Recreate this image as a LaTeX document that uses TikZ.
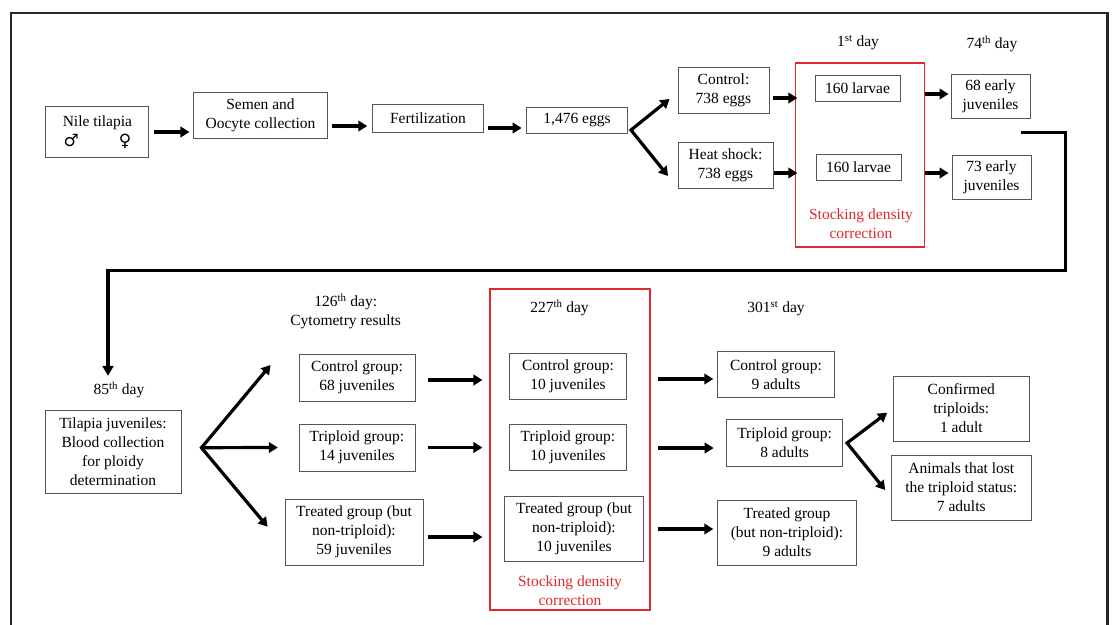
\documentclass[tikz,border=0pt]{standalone}
\usepackage{fontspec}
\setmainfont{Liberation Serif}
\newfontfamily\symfont{DejaVu Sans}
\usetikzlibrary{arrows.meta,calc}
\definecolor{myred}{RGB}{222,40,45}
\definecolor{boxgray}{RGB}{85,85,85}
\begin{document}
\begin{tikzpicture}[x=1pt,y=-1pt,
  box/.style={draw=boxgray, line width=0.9pt, align=center, inner sep=0pt, font=\fontsize{15.5}{19}\selectfont},
  lbl/.style={align=center, inner sep=0pt, font=\fontsize{15.5}{19}\selectfont},
  redbox/.style={draw=myred, line width=1.1pt, inner sep=0pt},
  redtxt/.style={lbl, text=myred},
  arr/.style={line width=3.2pt, -{Triangle[length=9pt,width=10.5pt]}},
  arrtwo/.style={line width=3.2pt, line join=miter, {Triangle[length=9pt,width=10.5pt]}-{Triangle[length=9pt,width=10.5pt]}},
  conn/.style={line width=3.6pt, line join=miter, -{Triangle[length=10pt,width=11pt]}}
]
\useasboundingbox (0,0) rectangle (1114,624);
% outer frame
\draw[line width=2.4pt, black!85] (11,640) -- (11,13) -- (1107.5,13) -- (1107.5,640);

% ---------- top row ----------
\node[box, minimum width=103pt, minimum height=51pt] (nile) at (97.4,132) {Nile tilapia\\[1pt]{\symfont\fontsize{17}{18}\selectfont ♂}\hspace{40pt}{\symfont\fontsize{17}{18}\selectfont ♀}};
\node[box, minimum width=134pt, minimum height=46pt] (semen) at (260.5,115) {Semen and\\Oocyte collection};
\node[box, minimum width=111.5pt, minimum height=28pt] (fert) at (428,118) {Fertilization};
\node[box, minimum width=101pt, minimum height=26pt] (eggs) at (577,120) {1,476 eggs};
\node[box, minimum width=91pt, minimum height=46pt] (ctrl) at (723.5,90) {Control:\\738 eggs};
\node[box, minimum width=95pt, minimum height=46pt] (heat) at (725.5,165) {Heat shock:\\738 eggs};
\node[redbox, minimum width=129pt, minimum height=184pt] (red1) at (860,155) {};
\node[box, minimum width=85pt, minimum height=26pt] (larva1) at (857.5,88) {160 larvae};
\node[box, minimum width=85pt, minimum height=26pt] (larva2) at (858.5,167) {160 larvae};
\node[redtxt] (redtxt1) at (861,224) {Stocking density\\correction};
\node[lbl] (day1) at (858,43) {1\textsuperscript{st} day};
\node[lbl] (day74) at (992,44) {74\textsuperscript{th} day};
\node[box, minimum width=79pt, minimum height=44pt] (juv68) at (990.5,96) {68 early\\juveniles};
\node[box, minimum width=79pt, minimum height=44pt] (juv73) at (991.5,177) {73 early\\juveniles};

\draw[arr] ([xshift=5pt]nile.east) -- ([xshift=-3.6pt,yshift=-17pt]semen.west);
\draw[arr] ([xshift=4.5pt,yshift=-11pt]semen.east) -- ([xshift=-4.5pt,yshift=-8pt]fert.west);
\draw[arr] ([xshift=3.5pt,yshift=-10pt]fert.east) -- ([xshift=-4.4pt,yshift=-8pt]eggs.west);
\coordinate (f1) at ([xshift=3pt,yshift=-10pt]eggs.east);
\draw[arrtwo] ([xshift=-8pt,yshift=-9pt]ctrl.west) -- (f1) -- ([xshift=-9.5pt,yshift=-11pt]heat.west);
\draw[arr] ([xshift=4pt,yshift=-8pt]ctrl.east) -- ([xshift=2.4pt,yshift=57pt]red1.west);
\draw[arr] ([xshift=1pt,yshift=-8pt]heat.east) -- ([xshift=2.4pt,yshift=-18pt]red1.west);
\draw[arr] ([yshift=61pt]red1.east) -- ([xshift=-2pt,yshift=2pt]juv68.west);
\draw[arr] ([yshift=-18pt]red1.east) -- ([xshift=-3pt,yshift=4pt]juv73.west);

% ---------- bottom row ----------
\node[lbl] (day85) at (119,390) {85\textsuperscript{th} day};
\node[box, minimum width=136pt, minimum height=83pt] (tj) at (113,452) {Tilapia juveniles:\\Blood collection\\for ploidy\\determination};
\node[lbl] (day126) at (345.7,311.5) {126\textsuperscript{th} day:\\Cytometry results};
\node[box, minimum width=116pt, minimum height=47pt] (cg68) at (357,377.5) {Control group:\\68 juveniles};
\node[box, minimum width=116pt, minimum height=47pt] (tg14) at (357,447.5) {Triploid group:\\14 juveniles};
\node[box, minimum width=138pt, minimum height=66pt] (tr59) at (354,532) {Treated group (but\\non-triploid):\\59 juveniles};

\node[redbox, minimum width=160pt, minimum height=321pt] (red2) at (570,449.5) {};
\node[lbl] (day227) at (559.5,308) {227\textsuperscript{th} day};
\node[box, minimum width=117pt, minimum height=46pt] (cg10) at (568,376) {Control group:\\10 juveniles};
\node[box, minimum width=117pt, minimum height=46pt] (tg10) at (568,447) {Triploid group:\\10 juveniles};
\node[box, minimum width=139pt, minimum height=65pt] (tr10) at (574,528.5) {Treated group (but\\non-triploid):\\10 juveniles};
\node[redtxt] (redtxt2) at (570,591) {Stocking density\\correction};

\node[lbl] (day301) at (776,309) {301\textsuperscript{st} day};
\node[box, minimum width=116.5pt, minimum height=46.7pt] (cg9) at (776,374.3) {Control group:\\9 adults};
\node[box, minimum width=116pt, minimum height=46.3pt] (tg8) at (784.6,443) {Triploid group:\\8 adults};
\node[box, minimum width=138.5pt, minimum height=65pt] (tr9) at (787,532.5) {Treated group\\(but non-triploid):\\9 adults};
\node[box, minimum width=135.4pt, minimum height=65pt] (conf) at (961.3,408.5) {Confirmed\\triploids:\\1 adult};
\node[box, minimum width=139.4pt, minimum height=65pt] (lost) at (961.3,487.5) {Animals that lost\\the triploid status:\\7 adults};

% long connector
\coordinate (cs) at ([xshift=-9pt,yshift=-14pt]juv68.south east);
\coordinate (ce) at ([xshift=-11pt,yshift=6pt]day85.north);
\draw[conn] (cs) -- ++(44,0) -- ++(0,138) -| (ce);

% fork from tilapia juveniles
\coordinate (f2) at ([xshift=20pt,yshift=4.3pt]tj.east);
\draw[arrtwo] ([xshift=-28pt,yshift=12.5pt]cg68.west) -- (f2) -- ([xshift=-17pt,yshift=5.3pt]tr59.west);
\draw[arr] (f2) -- ([xshift=-20.7pt]tg14.west);

% to 227th day
\draw[arr] ([xshift=12.7pt,yshift=-2.5pt]cg68.east) -- ([xshift=-7pt,yshift=69.5pt]red2.west);
\draw[arr] ([xshift=12.7pt]tg14.east) -- ([xshift=-7pt,yshift=2pt]red2.west);
\draw[arr] ([xshift=5pt,yshift=-5pt]tr59.east) -- ([xshift=-7pt,yshift=-87.5pt]red2.west);

% to 301st day
\draw[arr] ([xshift=7pt,yshift=70.5pt]red2.east) -- ([xshift=-4pt,yshift=-4.7pt]cg9.west);
\draw[arr] ([xshift=7pt,yshift=1.5pt]red2.east) -- ([xshift=-12.5pt,yshift=-5pt]tg8.west);
\draw[arr] ([xshift=7pt,yshift=-79.5pt]red2.east) -- ([xshift=-4pt,yshift=3.5pt]tr9.west);

% final fork
\coordinate (f3) at ([xshift=4pt]tg8.east);
\draw[arrtwo] ([xshift=-6pt,yshift=-4.2pt]conf.west) -- (f3) -- ([xshift=-6pt,yshift=-2.5pt]lost.west);
\end{tikzpicture}
\end{document}
